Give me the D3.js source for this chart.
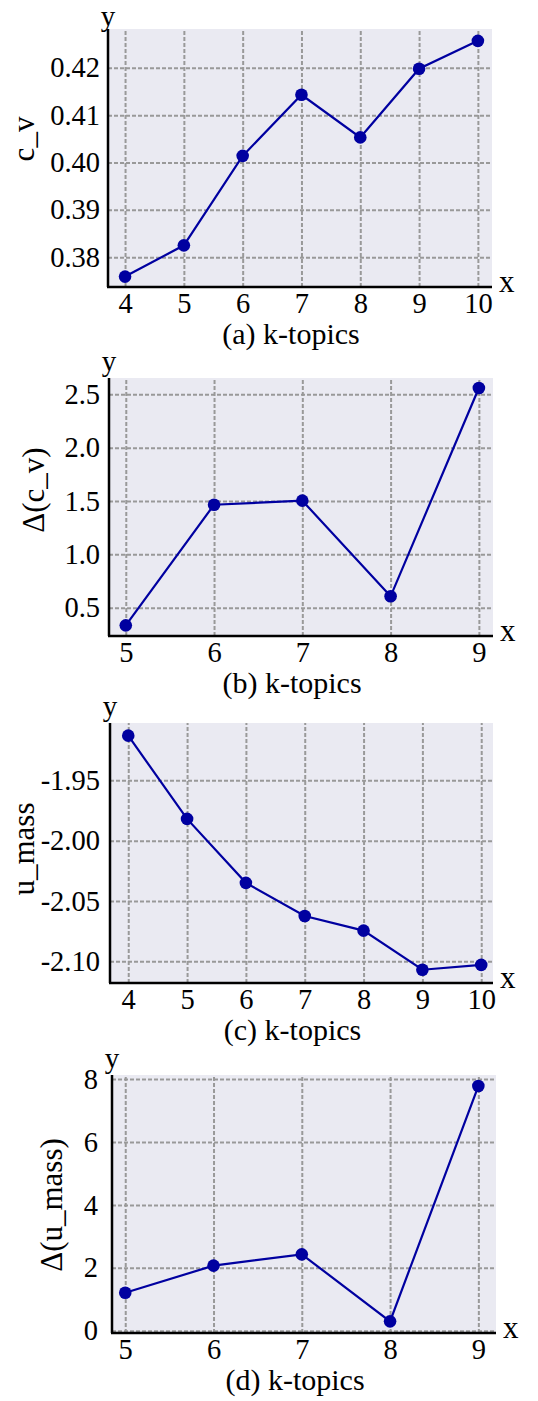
<!DOCTYPE html>
<html>
<head>
<meta charset="utf-8">
<script src="https://cdn.jsdelivr.net/npm/d3@7"></script>
<style>
  body { margin: 0; background: #fff; }
  svg { display: block; font-family: "Liberation Serif", "Times New Roman", serif; }
</style>
</head>
<body>
<svg id="chart" width="538" height="1401"></svg>
<script>
// values
const kA = [4, 5, 6, 7, 8, 9, 10];
const cv = [0.3759, 0.3825, 0.4014, 0.4143, 0.4053, 0.4198, 0.4257];
const cvTicks = [0.38, 0.39, 0.40, 0.41, 0.42];

const kB = [5, 6, 7, 8, 9];
const dCv = [0.334, 1.465, 1.503, 0.606, 2.559];
const dCvTicks = [0.5, 1.0, 1.5, 2.0, 2.5];

const kC = [4, 5, 6, 7, 8, 9, 10];
const umass = [-1.913, -1.982, -2.035, -2.0625, -2.0746, -2.107, -2.103];
const umassTicks = [-1.95, -2.00, -2.05, -2.10];

const kD = [5, 6, 7, 8, 9];
const dUmass = [1.21, 2.07, 2.43, 0.30, 7.78];
const dUmassTicks = [0, 2, 4, 6, 8];

const panels = [
  { x: kA, y: cv, yTicks: cvTicks, fmt: ".2f", yLabel: "c_v", caption: "(a) k-topics",
    box: [108, 29, 492, 287], xDom: [3.71, 10.24], yDom: [0.3737, 0.4282], pad: 8, lab: [34, 139] },
  { x: kB, y: dCv, yTicks: dCvTicks, fmt: ".1f", yLabel: "Δ(c_v)", caption: "(b) k-topics",
    box: [109, 378, 493, 636], xDom: [4.81, 9.16], yDom: [0.234, 2.653], pad: 9, lab: [44, 490] },
  { x: kC, y: umass, yTicks: umassTicks, fmt: ".2f", yLabel: "u_mass", caption: "(c) k-topics",
    box: [110, 723, 493, 983], xDom: [3.69, 10.2], yDom: [-2.118, -1.9025], pad: 10, lab: [34, 849] },
  { x: kD, y: dUmass, yTicks: dUmassTicks, fmt: "d", yLabel: "Δ(u_mass)", caption: "(d) k-topics",
    box: [112, 1075, 496, 1333], xDom: [4.85, 9.2], yDom: [-0.07, 8.13], pad: 14, lab: [62, 1205] }
];

const svg = d3.select("#chart");
const lineColor = "#0000a0";

panels.forEach(p => drawPanel(p));

function drawPanel(p) {
  const [left, top, right, bottom] = p.box;
  const x = d3.scaleLinear().domain(p.xDom).range([left, right]);
  const y = d3.scaleLinear().domain(p.yDom).range([bottom, top]);
  const f = d3.format(p.fmt);
  const fmt = v => f(v).replace("−", "-");
  const g = svg.append("g");

  g.append("rect")
    .attr("x", left).attr("y", top)
    .attr("width", right - left).attr("height", bottom - top)
    .attr("fill", "#eaeaf2");

  // grid
  const gx = g.append("g")
    .attr("transform", `translate(0,${bottom})`)
    .call(d3.axisBottom(x).tickValues(p.x).tickSize(-(bottom - top)).tickFormat(""));
  const gy = g.append("g")
    .attr("transform", `translate(${left},0)`)
    .call(d3.axisLeft(y).tickValues(p.yTicks).tickSize(-(right - left)).tickFormat(""));
  [gx, gy].forEach(a => {
    a.select(".domain").remove();
    a.selectAll(".tick line")
      .attr("stroke", "#999")
      .attr("stroke-width", 2)
      .attr("stroke-dasharray", "4,2");
  });

  // tick labels
  const tx = g.append("g")
    .attr("transform", `translate(0,${bottom})`)
    .call(d3.axisBottom(x).tickValues(p.x).tickSize(0).tickPadding(6).tickFormat(d3.format("d")));
  const ty = g.append("g")
    .attr("transform", `translate(${left},0)`)
    .call(d3.axisLeft(y).tickValues(p.yTicks).tickSize(0).tickPadding(p.pad).tickFormat(fmt));
  [tx, ty].forEach(a => {
    a.select(".domain").remove();
    a.attr("font-family", null);
    a.selectAll("text")
      .attr("fill", "#000")
      .style("font-family", "Liberation Serif")
      .style("font-size", "28.5px");
  });

  // axis lines
  g.append("line")
    .attr("x1", left).attr("x2", left).attr("y1", top).attr("y2", bottom)
    .attr("stroke", "#000").attr("stroke-width", 2.5);
  g.append("line")
    .attr("x1", left - 1).attr("x2", right).attr("y1", bottom).attr("y2", bottom)
    .attr("stroke", "#000").attr("stroke-width", 2.5);

  // series
  const pts = p.x.map((k, i) => [k, p.y[i]]);
  g.append("path")
    .datum(pts)
    .attr("fill", "none")
    .attr("stroke", lineColor)
    .attr("stroke-width", 2.2)
    .attr("d", d3.line().x(d => x(d[0])).y(d => y(d[1])));
  g.selectAll("circle")
    .data(pts)
    .enter()
    .append("circle")
    .attr("cx", d => x(d[0]))
    .attr("cy", d => y(d[1]))
    .attr("r", 6.3)
    .attr("fill", lineColor);

  // labels
  g.append("text")
    .attr("x", left).attr("y", Math.max(top - 7, 26))
    .attr("text-anchor", "middle")
    .style("font-size", "29px")
    .text("y");
  g.append("text")
    .attr("x", right + 7).attr("y", bottom + 5)
    .style("font-size", "31px")
    .text("x");
  g.append("text")
    .attr("transform", `translate(${p.lab[0]},${p.lab[1]}) rotate(-90)`)
    .attr("text-anchor", "middle")
    .style("font-size", "31px")
    .text(p.yLabel);
  g.append("text")
    .attr("x", (left + right) / 2 - 9).attr("y", bottom + 57)
    .attr("text-anchor", "middle")
    .style("font-size", "30px")
    .text(p.caption);
}
</script>
</body>
</html>
